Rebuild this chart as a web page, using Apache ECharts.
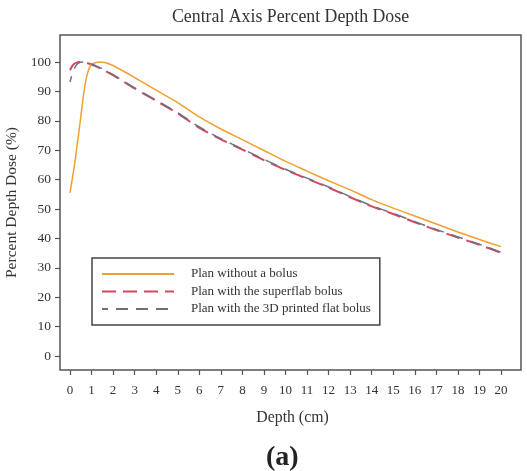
<!DOCTYPE html>
<html>
<head>
<meta charset="utf-8">
<script src="https://cdn.jsdelivr.net/npm/echarts@6/dist/echarts.min.js"></script>
<style>
  html, body { margin: 0; padding: 0; background: #fff; }
  #chart { width: 527px; height: 471px; }
</style>
</head>
<body>
<div id="chart"></div>
<script>
// depth (cm) sample points
const depth = [0, 0.1, 0.2, 0.3, 0.4, 0.5, 0.6, 0.7, 0.8, 0.9, 1.0, 1.2, 1.4, 1.6, 1.8, 2,
  3, 4, 5, 6, 7, 8, 9, 10, 11, 12, 13, 14, 15, 16, 17, 18, 19, 20]

const noBolus = [55.5, 60, 64.5, 70, 75.5, 81.3, 87.3, 92.3, 95.8, 98, 99.2, 99.8, 100, 99.8, 99.4, 98.8,
  94.7, 90.4, 86.2, 81.3, 77.2, 73.6, 69.9, 66.2, 62.9, 59.6, 56.5, 53.2, 50.3, 47.6, 44.9, 42.2, 39.6, 37.2]

const superflab = [97.2, 98.6, 99.4, 99.8, 100, 100, 99.9, 99.8, 99.6, 99.4, 99.1, 98.5, 97.8, 97.1, 96.3, 95.5,
  91.0, 86.8, 82.5, 77.6, 73.7, 70.2, 66.6, 63.3, 60.3, 57.3, 54.0, 50.9, 48.3, 45.5, 42.8, 40.3, 37.8, 35.1]

const printed = [93.2, 95.8, 97.8, 99.0, 99.6, 99.9, 100, 100, 99.8, 99.6, 99.3, 98.7, 98.0, 97.3, 96.5, 95.7,
  91.2, 87.0, 82.7, 77.9, 73.9, 70.4, 66.9, 63.5, 60.5, 57.5, 54.2, 51.1, 48.5, 45.7, 43.0, 40.5, 38.0, 35.3]

const seriesNames = ['Plan without a bolus', 'Plan with the superflab bolus', 'Plan with the 3D printed flat bolus']

// tick values
const xTicks = [0, 1, 2, 3, 4, 5, 6, 7, 8, 9, 10, 11, 12, 13, 14, 15, 16, 17, 18, 19, 20]
const yTicks = [0, 10, 20, 30, 40, 50, 60, 70, 80, 90, 100]

const font = 'Liberation Serif'
const textColor = '#333'

const pairs = (values) => depth.map((d, i) => [d, values[i]])

const chart = echarts.init(document.getElementById('chart'))

// the frame is wider than the tick range (R style padding)
const xPadLeft = 10 / 21.55
const xPadRight = 20 / 21.55
const yPadBottom = 14 / 2.94
const yPadTop = 27 / 2.94

chart.setOption({
  animation: false,
  backgroundColor: '#fff',
  textStyle: { fontFamily: font, color: textColor },
  title: [
    {
      text: 'Central Axis Percent Depth Dose',
      left: 167,
      top: 3,
      textStyle: { fontFamily: font, fontSize: 17.8, fontWeight: 'normal', color: textColor }
    },
    {
      text: '(a)',
      left: 261,
      top: 439,
      textStyle: { fontFamily: font, fontSize: 28, fontWeight: 'bold', color: '#222' }
    }
  ],
  legend: {
    orient: 'vertical',
    left: 92,
    top: 258,
    data: seriesNames,
    borderColor: '#444',
    borderWidth: 1.5,
    padding: [9, 9, 9, 9],
    itemWidth: 72,
    itemHeight: 14,
    itemGap: 3.5,
    itemStyle: { opacity: 0 },
    textStyle: { fontFamily: font, fontSize: 13, color: textColor, lineHeight: 14, padding: [0, 0, 0, 12] }
  },
  grid: {
    left: 60, right: 6, top: 35, bottom: 101,
    outerBoundsMode: 'none',
    show: true, borderColor: '#555', borderWidth: 1.5, backgroundColor: 'transparent'
  },
  xAxis: {
    type: 'value',
    min: -xPadLeft,
    max: 20 + xPadRight,
    name: 'Depth (cm)',
    nameLocation: 'middle',
    nameGap: 40,
    nameTextStyle: { fontFamily: font, fontSize: 15.8, color: textColor, padding: [0, 0, 0, 4] },
    axisLine: { show: false, onZero: false },
    axisTick: { show: true, length: 5, customValues: xTicks, lineStyle: { color: '#555', width: 1.2 } },
    splitLine: { show: false },
    axisLabel: { fontFamily: font, fontSize: 13, color: textColor, margin: 14.5, customValues: xTicks }
  },
  yAxis: {
    type: 'value',
    min: -yPadBottom,
    max: 100 + yPadTop,
    name: 'Percent Depth Dose (%)',
    nameLocation: 'middle',
    nameGap: 40,
    nameTextStyle: { fontFamily: font, fontSize: 15.5, color: textColor },
    axisLine: { show: false, onZero: false },
    axisTick: { show: true, length: 5, customValues: yTicks, lineStyle: { color: '#555', width: 1.2 } },
    splitLine: { show: false },
    axisLabel: { fontFamily: font, fontSize: 13.5, color: textColor, margin: 9, customValues: yTicks }
  },
  series: [
    {
      name: seriesNames[0],
      type: 'line',
      data: pairs(noBolus),
      symbol: 'none',
      smooth: 0.2,
      lineStyle: { color: '#f0a030', width: 1.5 },
      itemStyle: { color: '#f0a030' },
      z: 3
    },
    {
      name: seriesNames[1],
      type: 'line',
      data: pairs(superflab),
      symbol: 'none',
      smooth: 0.2,
      lineStyle: { color: '#d5475a', width: 2, type: [14, 7] },
      itemStyle: { color: '#d5475a' },
      z: 2
    },
    {
      name: seriesNames[2],
      type: 'line',
      data: pairs(printed),
      symbol: 'none',
      smooth: 0.2,
      lineStyle: { color: '#6c7080', width: 1.5, type: [12, 8], dashOffset: 6 },
      itemStyle: { color: '#6c7080' },
      z: 4
    }
  ]
})
</script>
</body>
</html>
